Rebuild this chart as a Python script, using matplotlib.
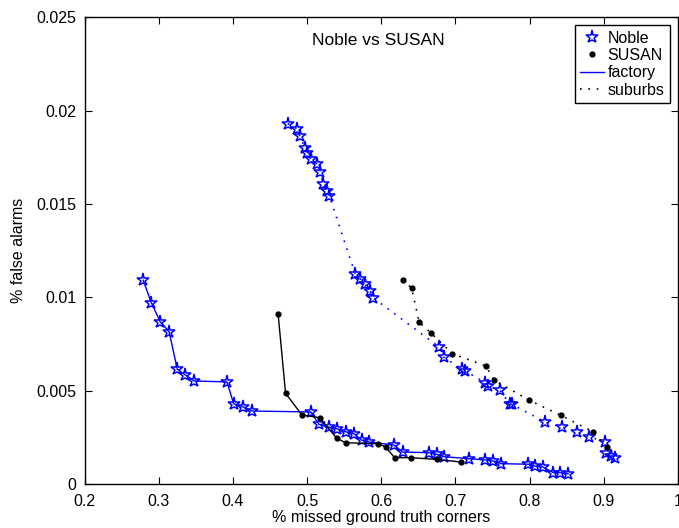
import matplotlib.pyplot as plt
from matplotlib.lines import Line2D

plt.rcParams['font.family'] = ['Liberation Sans', 'DejaVu Sans']

# Noble detector, factory sequence
noble_fac_x = [0.279, 0.290, 0.302, 0.314, 0.325, 0.336, 0.348, 0.392, 0.401, 0.414, 0.426,
               0.505, 0.516, 0.529, 0.540, 0.553, 0.563, 0.574, 0.584, 0.617, 0.629, 0.664,
               0.675, 0.685, 0.718, 0.740, 0.751, 0.762, 0.798, 0.807, 0.818, 0.832, 0.841, 0.852]
noble_fac_y = [0.01092, 0.00972, 0.00869, 0.00816, 0.00615, 0.00584, 0.00552, 0.00547, 0.00430,
               0.00413, 0.00391, 0.00386, 0.00320, 0.00305, 0.00296, 0.00279, 0.00270, 0.00234,
               0.00225, 0.00209, 0.00171, 0.00168, 0.00159, 0.00146, 0.00136, 0.00129, 0.00123,
               0.00109, 0.00106, 0.00096, 0.00091, 0.00061, 0.00061, 0.00055]

# SUSAN detector, factory sequence
susan_fac_x = [0.461, 0.471, 0.493, 0.517, 0.540, 0.552, 0.596, 0.606, 0.618, 0.640, 0.675, 0.707]
susan_fac_y = [0.00909, 0.00486, 0.00370, 0.00355, 0.00245, 0.00221, 0.00216, 0.00198,
               0.00141, 0.00141, 0.00132, 0.00118]

# Noble detector, suburbs sequence
noble_sub_x = [0.474, 0.486, 0.490, 0.497, 0.500, 0.505, 0.514, 0.518, 0.522, 0.527, 0.530,
               0.565, 0.572, 0.578, 0.585, 0.589, 0.678, 0.684, 0.709, 0.713, 0.740, 0.744,
               0.760, 0.773, 0.776, 0.821, 0.843, 0.864, 0.880, 0.902, 0.903, 0.910, 0.915]
noble_sub_y = [0.01931, 0.01904, 0.01865, 0.01802, 0.01775, 0.01740, 0.01713, 0.01674, 0.01606,
               0.01570, 0.01543, 0.01124, 0.01097, 0.01070, 0.01034, 0.00998, 0.00734, 0.00680,
               0.00615, 0.00606, 0.00543, 0.00525, 0.00502, 0.00430, 0.00427, 0.00332, 0.00305,
               0.00279, 0.00253, 0.00227, 0.00168, 0.00150, 0.00141]

# SUSAN detector, suburbs sequence
susan_sub_x = [0.629, 0.641, 0.651, 0.667, 0.696, 0.741, 0.752, 0.799, 0.842, 0.886, 0.904]
susan_sub_y = [0.01093, 0.01049, 0.00868, 0.00809, 0.00698, 0.00632, 0.00557, 0.00450,
               0.00368, 0.00279, 0.00198]

fig = plt.figure(figsize=(6.79, 5.28), dpi=100)
ax = fig.add_axes([0.1245, 0.0833, 0.874, 0.8839])

star = dict(marker='*', markersize=9.5, markerfacecolor='none', markeredgecolor='blue',
            markeredgewidth=1.1)
dot = dict(marker='.', markersize=7, color='black')
dotted = (0, (1, 4))

ax.plot(noble_fac_x, noble_fac_y, '-', color='blue', lw=1, **star)
ax.plot(susan_fac_x, susan_fac_y, '-', lw=1, **dot)
ax.plot(noble_sub_x, noble_sub_y, linestyle=dotted, color='blue', lw=1.2, **star)
ax.plot(susan_sub_x, susan_sub_y, linestyle=dotted, lw=1.2, **dot)

ax.set_xlim(0.2, 1)
ax.set_ylim(0, 0.025)
ax.set_xticks([0.2, 0.3, 0.4, 0.5, 0.6, 0.7, 0.8, 0.9, 1])
ax.set_xticklabels(['0.2', '0.3', '0.4', '0.5', '0.6', '0.7', '0.8', '0.9', '1'])
ax.set_yticks([0, 0.005, 0.01, 0.015, 0.02, 0.025])
ax.set_yticklabels(['0', '0.005', '0.01', '0.015', '0.02', '0.025'])
ax.tick_params(direction='in', top=True, right=True, length=5, labelsize=11.5)
ax.tick_params(axis='x', pad=7)
ax.tick_params(axis='y', pad=6)
for s in ax.spines.values():
    s.set_linewidth(1)
ax.set_xlabel('% missed ground truth corners', fontsize=11.5, labelpad=1)
ax.set_ylabel('% false alarms', fontsize=11.5, labelpad=7)
ax.text(0.495, 0.95, 'Noble vs SUSAN', transform=ax.transAxes, ha='center', va='center',
        fontsize=12.5)

handles = [
    Line2D([], [], linestyle='none', **star),
    Line2D([], [], linestyle='none', **dot),
    Line2D([], [], color='blue', lw=1),
    Line2D([], [], color='black', lw=1.2, linestyle=dotted),
]
leg = ax.legend(handles, ['Noble', 'SUSAN', 'factory', 'suburbs'], loc='upper right',
                fontsize=11.5, fancybox=False, edgecolor='black', framealpha=1,
                handlelength=1.5, handletextpad=0.2, borderpad=0.35, labelspacing=0.15,
                borderaxespad=0, bbox_to_anchor=(0.9865, 0.9835))
leg.get_frame().set_linewidth(1)

fig.savefig('out.png', dpi=100)
